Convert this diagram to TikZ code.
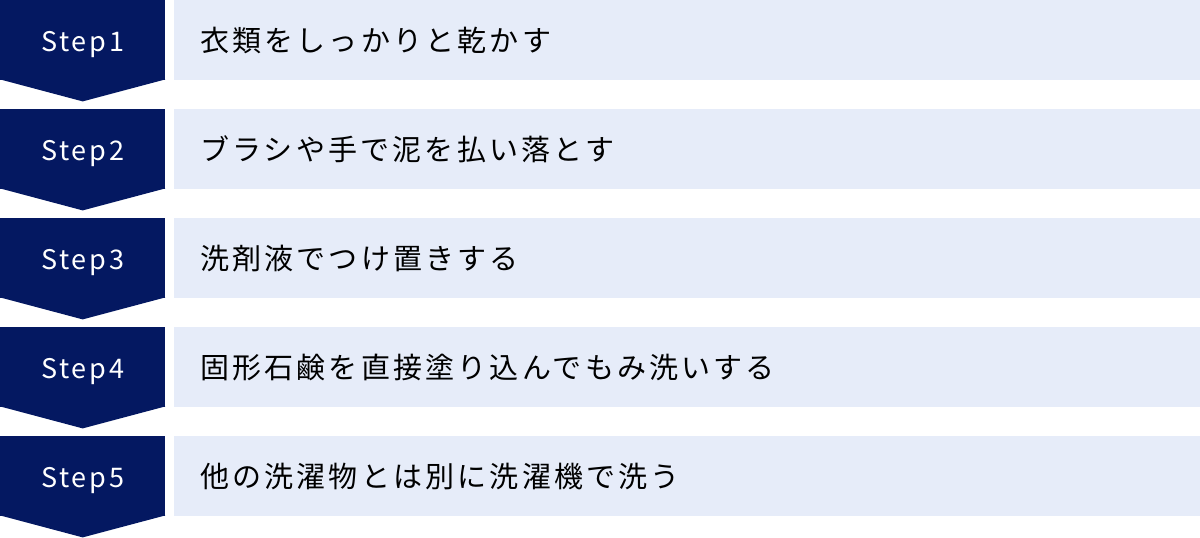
\documentclass[tikz,border=0pt]{standalone}
\usepackage{fontspec}
\setmainfont{Noto Sans CJK JP}
\newfontfamily\spacedfont[LetterSpace=10]{Noto Sans CJK JP}
\newfontfamily\widefont[LetterSpace=11]{Noto Sans CJK JP}
\usepackage{tikz}

\definecolor{stepnavy}{HTML}{041861}
\definecolor{rowblue}{HTML}{E6ECF9}

\begin{document}
\begin{tikzpicture}[x=1pt,y=-1pt,
    steplabel/.style={fill=stepnavy,text=white,minimum width=165pt,minimum height=80pt,
        inner sep=0pt,text height=24pt,text depth=1pt,anchor=north west,
        font=\spacedfont\fontsize{27}{32}\selectfont},
    rowbox/.style={fill=rowblue,minimum height=80pt,text width=974pt,inner xsep=26pt,
        inner ysep=0pt,align=left,anchor=north west,font=\widefont\fontsize{29}{34}\selectfont}]
    \useasboundingbox (0,0) rectangle (1200,538);

    % Step labels on the left
    \node[steplabel] (s1) at (0,0) {Step1};
    \node[steplabel] (s2) at (0,109) {Step2};
    \node[steplabel] (s3) at (0,218) {Step3};
    \node[steplabel] (s4) at (0,327) {Step4};
    \node[steplabel] (s5) at (0,436) {Step5};

    % Arrow tips below each label (overlap 1pt to hide the seam)
    \fill[stepnavy] ([yshift=1pt]s1.south west) -- ([yshift=1pt]s1.south east) -- ([yshift=-21pt]s1.south) -- cycle;
    \fill[stepnavy] ([yshift=1pt]s2.south west) -- ([yshift=1pt]s2.south east) -- ([yshift=-21pt]s2.south) -- cycle;
    \fill[stepnavy] ([yshift=1pt]s3.south west) -- ([yshift=1pt]s3.south east) -- ([yshift=-21pt]s3.south) -- cycle;
    \fill[stepnavy] ([yshift=1pt]s4.south west) -- ([yshift=1pt]s4.south east) -- ([yshift=-21pt]s4.south) -- cycle;
    \fill[stepnavy] ([yshift=1pt]s5.south west) -- ([yshift=1pt]s5.south east) -- ([yshift=-21pt]s5.south) -- cycle;

    % Descriptions on the right
    \node[rowbox] (t1) at (174,0) {衣類をしっかりと乾かす};
    \node[rowbox] (t2) at (174,109) {ブラシや手で泥を払い落とす};
    \node[rowbox] (t3) at (174,218) {洗剤液でつけ置きする};
    \node[rowbox] (t4) at (174,327) {固形石鹸を直接塗り込んでもみ洗いする};
    \node[rowbox] (t5) at (174,436) {他の洗濯物とは別に洗濯機で洗う};
\end{tikzpicture}
\end{document}
